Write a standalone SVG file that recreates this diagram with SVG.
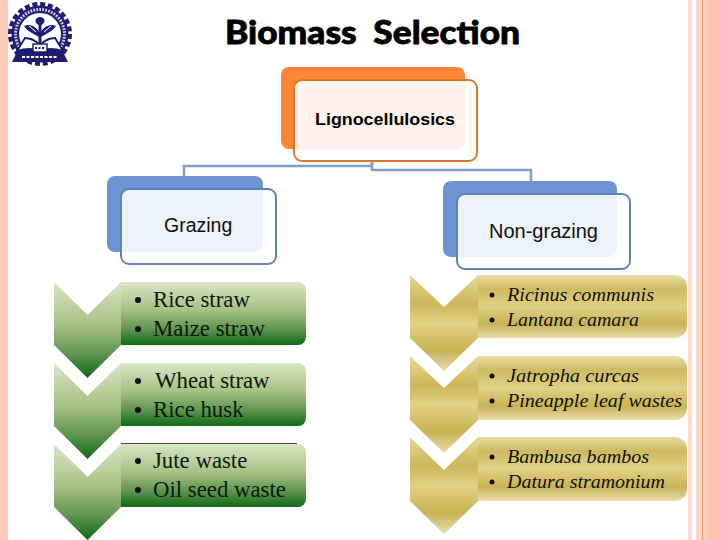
<svg xmlns="http://www.w3.org/2000/svg" width="720" height="540" viewBox="0 0 720 540">
<defs>
<linearGradient id="g" x1="0" y1="0" x2="0" y2="1"><stop offset="0" stop-color="#d9e6c6"/><stop offset=".45" stop-color="#a6c084"/><stop offset=".75" stop-color="#5f9450"/><stop offset="1" stop-color="#0f6a17"/></linearGradient>
<linearGradient id="y" x1="0" y1="0" x2="0" y2="1"><stop offset="0" stop-color="#e9dda6"/><stop offset=".22" stop-color="#cfba60"/><stop offset=".5" stop-color="#e0d184"/><stop offset=".78" stop-color="#c9b356"/><stop offset="1" stop-color="#e8dcaa"/></linearGradient>
<linearGradient id="yc" x1="0" y1="0" x2="0" y2="1"><stop offset="0" stop-color="#e5d994"/><stop offset=".3" stop-color="#cdb75a"/><stop offset=".5" stop-color="#e0d184"/><stop offset=".78" stop-color="#c8b255"/><stop offset="1" stop-color="#e5dbb0"/></linearGradient>
</defs>
<style>
.l{font:22.800px "Liberation Serif",serif;fill:#0a1a0a}
.r{font:italic 19px "Liberation Serif",serif;fill:#111}
.b{fill:#111}
.o{fill:none;stroke-width:2}
.fill-o{fill:#fef2ea}.fill-b{fill:#eef2fa}
</style>
<rect x="0" y="0" width="8" height="540" fill="#f9ccb9"/>
<g id="side-band">
<rect x="688" width="4" height="540" fill="#fbdccd"/>
<rect x="696" width="6" height="540" fill="#fbd5c4"/>
<rect x="702" width="1" height="540" fill="#e39a6f"/>
<rect x="703" width="5" height="540" fill="#fbceb9"/>
<rect x="708" width="12" height="540" fill="#fdc4b2"/>
</g>
<g id="logo">
<circle cx="40" cy="34" r="30" fill="none" stroke="#1f1c72" stroke-width="4" stroke-dasharray="5 2.850"/>
<circle cx="40" cy="34" r="28.500" fill="#1f1c72"/>
<circle cx="40" cy="34" r="24.500" fill="none" stroke="#c9c8e2" stroke-width="3" stroke-dasharray="1.800 1.200"/>
<circle cx="40" cy="34" r="21" fill="#fff"/>
<path d="M38.500 18h3v28h-3z" fill="#1f1c72"/>
<ellipse cx="40" cy="21" rx="4.500" ry="4" fill="#1f1c72"/>
<path d="M40 34C37 27 31 23 24 26 27 31 34 34 39 37H41C46 34 53 31 56 26 49 23 43 27 40 34z" fill="#1f1c72"/>
<path d="M29 26L36 32M51 26L44 32" stroke="#fff" stroke-width="1"/>
<path d="M12 62L18 50H62L68 62z" fill="#1f1c72"/>
<path d="M17 51L25 38Q33 38 40 45 47 38 55 38L63 51Q50 47 40 51 30 47 17 51z" fill="#fff" stroke="#1f1c72" stroke-width="1.800"/>
<rect x="33" y="44" width="14" height="8" fill="#fff" stroke="#1f1c72" stroke-width="1.500"/>
<path d="M35 48h10" stroke="#1f1c72" stroke-width="2" stroke-dasharray="2 1.500"/>
<path d="M22 57h36" stroke="#fff" stroke-width="2" stroke-dasharray="3 1.500"/>
</g>
<text x="225" y="44" font-family="Lato,'Open Sans',sans-serif" font-weight="900" font-size="33" textLength="295" lengthAdjust="spacingAndGlyphs" fill="#000" stroke="#000" stroke-width=".8" xml:space="preserve">Biomass  Selection</text>
<g id="connectors" fill="none" stroke="#7f9fd0" stroke-width="2.500">
<path d="M372 148V166H184V176"/>
<path d="M372 148V170H531V181"/>
</g>
<g id="lignocellulosics">
<rect x="281" y="67" width="184" height="82" rx="8" fill="#fd8637"/>
<rect x="294" y="80" width="183" height="81" rx="8" fill="#fff"/>
<path d="M302 80H465V141a8 8 0 0 1-8 8H294V88a8 8 0 0 1 8-8z" class="fill-o"/>
<rect x="294" y="80" width="183" height="81" rx="8" class="o" stroke="#e0752f"/>
<text x="315" y="125" font-family="'Liberation Sans',sans-serif" font-size="17" font-weight="700" textLength="140" lengthAdjust="spacingAndGlyphs" fill="#000">Lignocellulosics</text>
</g>
<g id="grazing">
<rect x="107" y="176" width="156" height="76" rx="8" fill="#6f94d4"/>
<rect x="121" y="189" width="155" height="75" rx="8" fill="#fff"/>
<path d="M129 189H263V244a8 8 0 0 1-8 8H121V197a8 8 0 0 1 8-8z" class="fill-b"/>
<rect x="121" y="189" width="155" height="75" rx="8" class="o" stroke="#5f82b5"/>
<text x="164" y="232" font-family="'Liberation Sans',sans-serif" font-size="19.500" fill="#111">Grazing</text>
</g>
<g id="non-grazing">
<rect x="443" y="181" width="174" height="76" rx="8" fill="#6f94d4"/>
<rect x="457" y="194" width="173" height="75" rx="8" fill="#fff"/>
<path d="M465 194H617V249a8 8 0 0 1-8 8H457V202a8 8 0 0 1 8-8z" class="fill-b"/>
<rect x="457" y="194" width="173" height="75" rx="8" class="o" stroke="#5f82b5"/>
<text x="489" y="238" font-family="'Liberation Sans',sans-serif" font-size="20" fill="#111">Non-grazing</text>
</g>
<g id="left-1">
<path d="M54 282L87.500 315 121 282V345L87.500 378 54 345z" fill="url(#g)"/>
<path d="M121 282H298a8 8 0 0 1 8 8V337a8 8 0 0 1-8 8H121z" fill="url(#g)"/>
<circle cx="138" cy="300" r="3" class="b"/><circle cx="138" cy="329" r="3" class="b"/>
<text x="153" y="307" class="l">Rice straw</text><text x="153" y="336" class="l">Maize straw</text>
</g>
<g id="left-2">
<path d="M54 363L87.500 396 121 363V426L87.500 459 54 426z" fill="url(#g)"/>
<path d="M121 363H298a8 8 0 0 1 8 8V418a8 8 0 0 1-8 8H121z" fill="url(#g)"/>
<circle cx="138" cy="381" r="3" class="b"/><circle cx="138" cy="410" r="3" class="b"/>
<text x="155" y="388" class="l">Wheat straw</text><text x="153" y="417" class="l">Rice husk</text>
</g>
<g id="left-3">
<path d="M54 444L87.500 477 121 444V507L87.500 540 54 507z" fill="url(#g)"/>
<path d="M121 444H298a8 8 0 0 1 8 8V499a8 8 0 0 1-8 8H121z" fill="url(#g)"/>
<path d="M121 443.500H297" stroke="#3d5a35" stroke-width="1"/>
<circle cx="138" cy="461" r="3" class="b"/><circle cx="138" cy="490" r="3" class="b"/>
<text x="153" y="468" class="l">Jute waste</text><text x="153" y="497" class="l">Oil seed waste</text>
</g>
<g id="right-1">
<path d="M410 275L444 307 478 275V338L444 371 410 338z" fill="url(#yc)"/>
<path d="M478 275H675a12 12 0 0 1 12 12V326a12 12 0 0 1-12 12H478z" fill="url(#y)"/>
<circle cx="492" cy="295" r="2.500" class="b"/><circle cx="492" cy="320" r="2.500" class="b"/>
<text x="507" y="301" class="r" textLength="147" lengthAdjust="spacingAndGlyphs">Ricinus communis</text><text x="507" y="326" class="r" textLength="132" lengthAdjust="spacingAndGlyphs">Lantana camara</text>
</g>
<g id="right-2">
<path d="M410 356L444 388 478 356V420L444 453 410 420z" fill="url(#yc)"/>
<path d="M478 356H675a12 12 0 0 1 12 12V408a12 12 0 0 1-12 12H478z" fill="url(#y)"/>
<circle cx="492" cy="376" r="2.500" class="b"/><circle cx="492" cy="401" r="2.500" class="b"/>
<text x="507" y="382" class="r" textLength="132" lengthAdjust="spacingAndGlyphs">Jatropha curcas</text><text x="507" y="407" class="r" textLength="175" lengthAdjust="spacingAndGlyphs">Pineapple leaf wastes</text>
</g>
<g id="right-3">
<path d="M410 437L444 470 478 437V501L444 534 410 501z" fill="url(#yc)"/>
<path d="M478 437H675a12 12 0 0 1 12 12V489a12 12 0 0 1-12 12H478z" fill="url(#y)"/>
<circle cx="492" cy="457" r="2.500" class="b"/><circle cx="492" cy="482" r="2.500" class="b"/>
<text x="507" y="463" class="r" textLength="142" lengthAdjust="spacingAndGlyphs">Bambusa bambos</text><text x="507" y="488" class="r" textLength="158" lengthAdjust="spacingAndGlyphs">Datura stramonium</text>
</g>
</svg>
